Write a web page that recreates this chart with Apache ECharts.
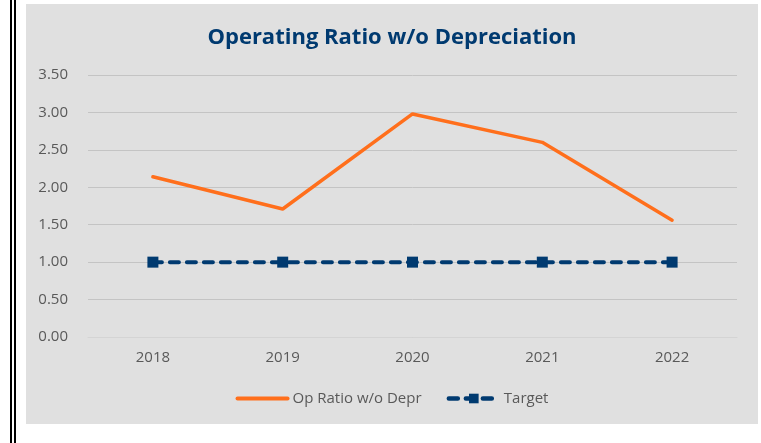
<!DOCTYPE html>
<html>
<head>
<meta charset="utf-8">
<script src="https://cdn.jsdelivr.net/npm/echarts@6/dist/echarts.min.js"></script>
<style>
  html, body { margin: 0; padding: 0; background: #fff; width: 761px; height: 443px; overflow: hidden; }
  .rule { position: absolute; top: 0; width: 2px; height: 443px; background: #000; }
  #chart { position: absolute; left: 26px; top: 4px; width: 732px; height: 420px; background: #E0E0E0; }
</style>
</head>
<body>
<div class="rule" style="left:10px"></div>
<div class="rule" style="left:14px"></div>
<div id="chart"></div>
<script>
// values
const years = ['2018', '2019', '2020', '2021', '2022'];
const opRatio = [2.14, 1.71, 2.98, 2.60, 1.56];
const target = [1.00, 1.00, 1.00, 1.00, 1.00];

const orange = '#FF6F1C';
const navy = '#003A70';
const font = 'Open Sans';
const labelColor = '#595959';

const chart = echarts.init(document.getElementById('chart'));
chart.setOption({
  animation: false,
  backgroundColor: '#E0E0E0',
  title: {
    text: 'Operating Ratio w/o Depreciation',
    left: 'center',
    top: 18,
    textStyle: { fontFamily: font, fontWeight: 'bold', fontSize: 22, color: navy },
  },
  grid: { left: 62, right: 21, top: 71, bottom: 87 },
  legend: {
    bottom: 13,
    left: 'center',
    itemWidth: 50,
    itemHeight: 12,
    itemGap: 25,
    textStyle: { fontFamily: font, fontSize: 15, color: labelColor },
    data: [
      { name: 'Op Ratio w/o Depr', itemStyle: { opacity: 0 }, lineStyle: { width: 4 } },
      { name: 'Target', lineStyle: { width: 4.5 } },
    ],
  },
  xAxis: {
    type: 'category',
    data: years,
    axisLine: { lineStyle: { color: '#D4D4D4', width: 1 } },
    axisTick: { show: false },
    axisLabel: { fontFamily: font, fontSize: 15, color: labelColor, margin: 13 },
  },
  yAxis: {
    type: 'value',
    min: 0,
    max: 3.5,
    interval: 0.5,
    axisLine: { show: false },
    axisTick: { show: false },
    splitLine: { lineStyle: { color: '#C4C4C4', width: 1 } },
    axisLabel: {
      fontFamily: font, fontSize: 15, color: labelColor, margin: 20,
      formatter: (v) => v.toFixed(2),
    },
  },
  series: [
    {
      name: 'Op Ratio w/o Depr',
      type: 'line',
      data: opRatio,
      symbol: 'none',
      itemStyle: { color: orange },
      lineStyle: { color: orange, width: 3.5, cap: 'round' },
    },
    {
      name: 'Target',
      type: 'line',
      data: target,
      symbol: 'rect',
      symbolSize: 11,
      itemStyle: { color: navy },
      lineStyle: { color: navy, width: 4, type: [9, 8], cap: 'round' },
    },
  ],
});
</script>
</body>
</html>
